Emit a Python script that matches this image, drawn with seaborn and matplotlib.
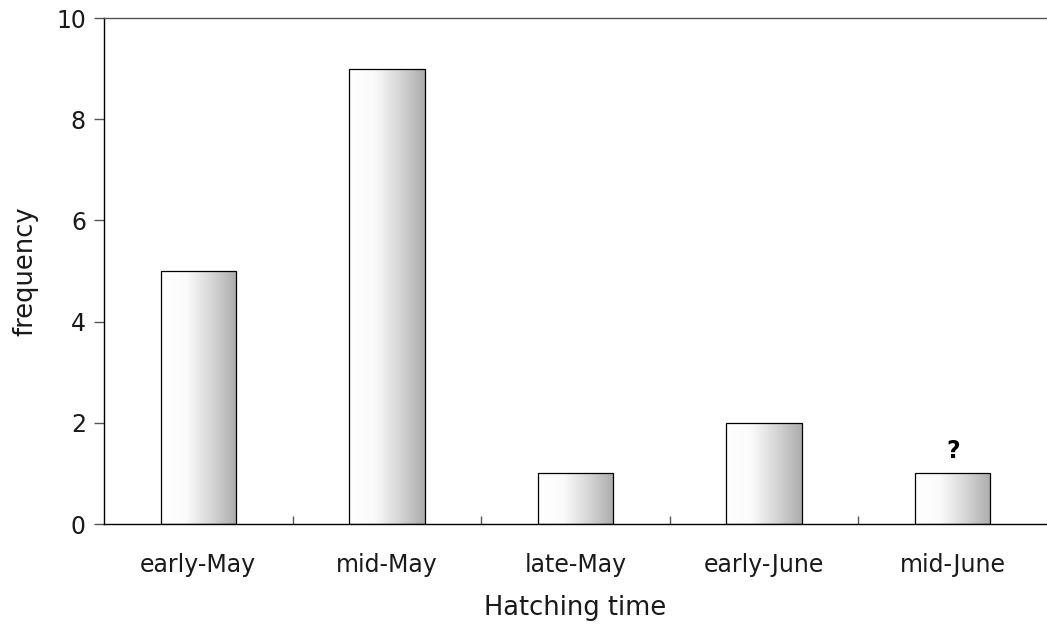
import numpy as np
import pandas as pd
import matplotlib
matplotlib.use("Agg")
import matplotlib.pyplot as plt
import seaborn as sns
from matplotlib.colors import LinearSegmentedColormap

# dados
categories = ["early-May", "mid-May", "late-May", "early-June", "mid-June"]
frequency = [5, 9, 1, 2, 1]

df = pd.DataFrame({"time": categories, "freq": frequency})

sns.set_style("white")
plt.rcParams['font.family'] = ['DejaVu Sans']
plt.rcParams['text.color'] = '#1a1a1a'
plt.rcParams['axes.labelcolor'] = '#1a1a1a'
plt.rcParams['xtick.labelcolor'] = '#1a1a1a'
plt.rcParams['ytick.labelcolor'] = '#1a1a1a'

fig = plt.figure(figsize=(10.47, 6.28), dpi=100)
ax = fig.add_axes([0.0993, 0.1656, 0.9007, 0.8057])

sns.barplot(data=df, x="time", y="freq", color="white", width=0.4,
            edgecolor="black", linewidth=0.9, ax=ax)

# gradiente branco -> cinza em cada barra
cmap = LinearSegmentedColormap.from_list("g", ["#ffffff", "#fbfbfb", "#d6d6d6", "#acacac"])
grad = np.linspace(0, 1, 256).reshape(1, -1)
for p in ax.patches:
    x0, y0 = p.get_x(), p.get_y()
    w, h = p.get_width(), p.get_height()
    im = ax.imshow(grad, cmap=cmap, aspect="auto", extent=[x0, x0 + w, y0, y0 + h],
                   zorder=p.get_zorder() - 0.1)
    im.set_clip_path(p)
    p.set_facecolor("none")

ax.set_xlim(-0.5, len(categories) - 0.5)
ax.set_ylim(0, 10)
ax.set_yticks([0, 2, 4, 6, 8, 10])

# "?" acima da última barra
ax.text(4, frequency[4] + 0.45, "?", ha="center", va="center", fontsize=17,
        fontweight="bold", color="black")

ax.set_xlabel("Hatching time", fontsize=18.5, labelpad=13)
ax.set_ylabel("frequency", fontsize=18.5, labelpad=13)

ax.tick_params(axis="x", which="major", bottom=True, length=0, labelsize=17, pad=21)
ax.set_xticks(np.arange(0.5, len(categories) - 1, 1), minor=True)
ax.tick_params(axis="x", which="minor", bottom=True, direction="in", length=6,
               width=1, color="#555555")
ax.tick_params(axis="y", left=True, direction="out", length=7, width=1,
               color="#555555", labelsize=17, pad=6)

for s in ["left", "bottom", "top"]:
    ax.spines[s].set_visible(True)
    ax.spines[s].set_color("black")
    ax.spines[s].set_linewidth(1.0)
ax.spines["top"].set_color("#555555")
ax.spines["right"].set_visible(False)

ax.set_facecolor("white")
fig.savefig("out.png", dpi=100)
